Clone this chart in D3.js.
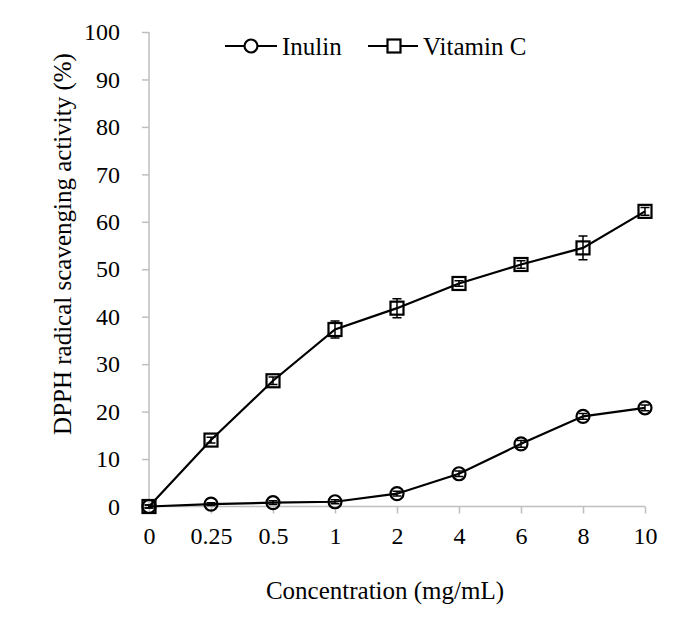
<!DOCTYPE html>
<html><head><meta charset="utf-8">
<script src="https://cdn.jsdelivr.net/npm/d3@7"></script>
<style>body{margin:0;background:#fff}svg{display:block}text{font-family:"Liberation Serif","Times New Roman",serif;fill:#000}</style>
</head><body><svg id="c" width="686" height="643"></svg>
<script>
const categories = ["0","0.25","0.5","1","2","4","6","8","10"];
const inulin = [0, 0.5, 0.8, 1.0, 2.7, 6.9, 13.2, 19.0, 20.8];
const inulinErr = [0.3, 0.3, 0.4, 0.4, 0.5, 0.6, 0.7, 0.6, 0.6];
const vitC = [0, 14.0, 26.5, 37.3, 41.8, 47.0, 51.0, 54.5, 62.2];
const vitCErr = [0.3, 0.6, 0.8, 1.8, 2.0, 0.6, 0.8, 2.5, 0.8];
const yTicks = [0,10,20,30,40,50,60,70,80,90,100];

const svg = d3.select("#c");
const x = d3.scalePoint().domain(categories).range([149, 645]);
const y = d3.scaleLinear().domain([0,100]).range([506.5, 32]);
const grey = "#bfbfbf";

// axes
const ya = svg.append("g").attr("transform","translate(149,0)")
  .call(d3.axisLeft(y).tickValues(yTicks).tickSize(7).tickPadding(22));
ya.selectAll("path,line").attr("stroke",grey).attr("stroke-width",1.5);
ya.select("path").attr("d", `M0,${y(100)}V${y(0)}`);
ya.selectAll("text").style("font-size","24px").attr("font-family",null);

const xa = svg.append("g").attr("transform",`translate(0,${y(0)})`)
  .call(d3.axisBottom(x).tickSize(7).tickPadding(13));
xa.selectAll("path,line").attr("stroke",grey).attr("stroke-width",1.5);
xa.select("path").attr("d", `M149,0H645`);
xa.selectAll("text").style("font-size","24px").attr("font-family",null);

svg.append("text").attr("x",385).attr("y",599).attr("text-anchor","middle")
  .style("font-size","25px").text("Concentration (mg/mL)");
svg.append("text").attr("transform","translate(71,244) rotate(-90)").attr("text-anchor","middle")
  .style("font-size","25px").text("DPPH radical scavenging activity (%)");

const line = d3.line().x((d,i)=>x(categories[i])).y(d=>y(d));
function series(vals, errs, shape){
  const g = svg.append("g");
  g.append("path").attr("d", line(vals)).attr("fill","none").attr("stroke","#000").attr("stroke-width",2.2);
  vals.forEach((v,i)=>{
    const cx = x(categories[i]), cy = y(v);
    if (shape==="circle") g.append("circle").attr("cx",cx).attr("cy",cy).attr("r",6.5)
      .attr("fill","none").attr("stroke","#000").attr("stroke-width",2.2);
    else g.append("rect").attr("x",cx-6.5).attr("y",cy-6.5).attr("width",13).attr("height",13)
      .attr("fill","none").attr("stroke","#000").attr("stroke-width",2.2);
    const e = errs[i], y1 = y(v+e), y2 = y(v-e);
    g.append("path").attr("d",`M${cx},${y1}V${y2}M${cx-4.5},${y1}H${cx+4.5}M${cx-4.5},${y2}H${cx+4.5}`)
      .attr("stroke","#000").attr("stroke-width",1.5).attr("fill","none");
  });
}
series(vitC, vitCErr, "square");
series(inulin, inulinErr, "circle");

// legend
const lg = svg.append("g");
lg.append("line").attr("x1",225).attr("x2",277).attr("y1",46).attr("y2",46).attr("stroke","#000").attr("stroke-width",2.2);
lg.append("circle").attr("cx",251).attr("cy",46).attr("r",6.5).attr("fill","#fff").attr("stroke","#000").attr("stroke-width",2.2);
lg.append("text").attr("x",282).attr("y",55).style("font-size","25px").text("Inulin");
lg.append("line").attr("x1",368).attr("x2",418).attr("y1",46).attr("y2",46).attr("stroke","#000").attr("stroke-width",2.2);
lg.append("rect").attr("x",387.5).attr("y",39.5).attr("width",13).attr("height",13).attr("fill","#fff").attr("stroke","#000").attr("stroke-width",2.2);
lg.append("text").attr("x",423).attr("y",55).style("font-size","25px").text("Vitamin C");
</script></body></html>
